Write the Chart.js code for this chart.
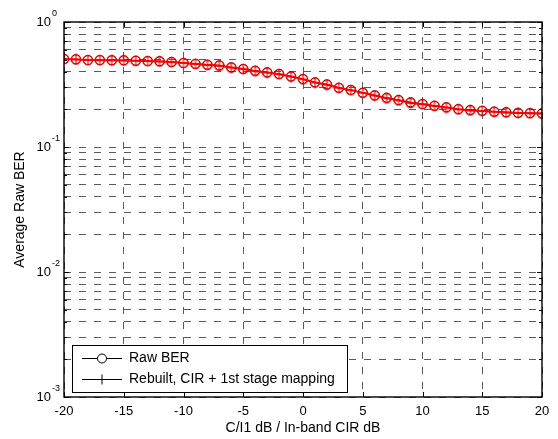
<!DOCTYPE html>
<html>
<head>
<meta charset="utf-8">
<script src="https://cdn.jsdelivr.net/npm/chart.js@4/dist/chart.umd.min.js"></script>
<style>
  html, body { margin: 0; padding: 0; background: #fff; }
  #wrap { width: 558px; height: 439px; }
</style>
</head>
<body>
<div id="wrap"><canvas id="ber-chart" width="558" height="439"></canvas></div>
<script>
// ─── Data ──────────────────────────────────────────────────────

const X_DB = [-20, -19, -18, -17, -16, -15, -14, -13, -12, -11, -10, -9, -8, -7, -6, -5, -4, -3, -2, -1,
  0, 1, 2, 3, 4, 5, 6, 7, 8, 9, 10, 11, 12, 13, 14, 15, 16, 17, 18, 19, 20];

const RAW_BER = [0.506, 0.503, 0.496, 0.496, 0.494, 0.494, 0.490, 0.487, 0.485, 0.479, 0.470, 0.463,
  0.456, 0.450, 0.434, 0.421, 0.408, 0.396, 0.384, 0.367, 0.350, 0.329, 0.317, 0.298, 0.286, 0.272,
  0.259, 0.248, 0.238, 0.228, 0.221, 0.214, 0.208, 0.201, 0.198, 0.195, 0.192, 0.190, 0.188, 0.187, 0.186];

const REBUILT_BER = [0.505, 0.502, 0.496, 0.495, 0.494, 0.493, 0.489, 0.487, 0.484, 0.478, 0.470, 0.461,
  0.452, 0.447, 0.432, 0.420, 0.404, 0.394, 0.382, 0.366, 0.348, 0.328, 0.315, 0.297, 0.285, 0.271,
  0.258, 0.245, 0.236, 0.225, 0.220, 0.213, 0.207, 0.200, 0.196, 0.194, 0.191, 0.189, 0.187, 0.186, 0.185];

const X_TICKS = [-20, -15, -10, -5, 0, 5, 10, 15, 20];
const Y_DECADES = [0.001, 0.01, 0.1, 1];
const Y_EXPONENTS = ['-3', '-2', '-1', '0'];
const Y_MINOR_STEPS = [2, 3, 4, 5, 6, 7, 8, 9];

const SERIES_LABELS = ['Raw BER', 'Rebuilt, CIR + 1st stage mapping'];
const X_TITLE = 'C/I1 dB / In-band CIR dB';
const Y_TITLE = 'Average Raw BER';

const FONT = '"Liberation Sans", Arial, Helvetica, sans-serif';
const GRID_COLOR = '#5a5a5a';

// ─── Helpers ───────────────────────────────────────────────────

// red circle with a plus through it, used as the marker of the rebuilt series
function circlePlusMarker(color) {
  const c = document.createElement('canvas');
  c.width = 12;
  c.height = 12;
  const g = c.getContext('2d');
  g.strokeStyle = color;
  g.lineWidth = 1.1;
  g.beginPath();
  g.arc(6, 6, 4.6, 0, Math.PI * 2);
  g.moveTo(6, 0.5); g.lineTo(6, 11.5);
  g.moveTo(0.5, 6); g.lineTo(11.5, 6);
  g.stroke();
  return c;
}

function allYTicks() {
  const ticks = [];
  Y_DECADES.forEach((d, i) => {
    ticks.push(d);
    if (i < Y_DECADES.length - 1) Y_MINOR_STEPS.forEach(m => ticks.push(d * m));
  });
  return ticks;
}

// ─── Frame plugin: box, inner ticks, labels, legend ───────────

const matlabFrame = {
  id: 'matlabFrame',
  afterDraw(chart) {
    const { ctx, chartArea: a, scales } = chart;
    const xs = scales.x, ys = scales.y;
    ctx.save();

    // box
    ctx.strokeStyle = '#000';
    ctx.lineWidth = 1.4;
    ctx.strokeRect(a.left, a.top, a.right - a.left, a.bottom - a.top);

    // inner ticks
    ctx.lineWidth = 1;
    ctx.beginPath();
    X_TICKS.forEach(v => {
      const px = Math.round(xs.getPixelForValue(v)) + 0.5;
      ctx.moveTo(px, a.bottom); ctx.lineTo(px, a.bottom - 5);
      ctx.moveTo(px, a.top); ctx.lineTo(px, a.top + 5);
    });
    allYTicks().forEach(v => {
      const py = Math.round(ys.getPixelForValue(v)) + 0.5;
      const len = Y_DECADES.includes(v) ? 5 : 3;
      ctx.moveTo(a.left, py); ctx.lineTo(a.left + len, py);
      ctx.moveTo(a.right, py); ctx.lineTo(a.right - len, py);
    });
    ctx.stroke();

    // y tick labels as 10 with a raised exponent
    ctx.fillStyle = '#000';
    Y_DECADES.forEach((v, i) => {
      const py = ys.getPixelForValue(v);
      ctx.font = `13px ${FONT}`;
      ctx.textAlign = 'right';
      ctx.textBaseline = 'middle';
      ctx.fillText('10', 51, py);
      ctx.font = `9px ${FONT}`;
      ctx.textAlign = 'left';
      ctx.fillText(Y_EXPONENTS[i], 52, py - 8);
    });

    // axis titles
    ctx.font = `14px ${FONT}`;
    ctx.textAlign = 'center';
    ctx.textBaseline = 'middle';
    ctx.fillText(X_TITLE, (a.left + a.right) / 2, 428);
    ctx.save();
    ctx.translate(20, (a.top + a.bottom) / 2);
    ctx.rotate(-Math.PI / 2);
    ctx.fillText(Y_TITLE, 0, 0);
    ctx.restore();

    // legend
    const lx = 72, ly = 345, lw = 275, lh = 47;
    ctx.fillStyle = '#fff';
    ctx.fillRect(lx, ly, lw, lh);
    ctx.strokeStyle = '#000';
    ctx.lineWidth = 1;
    ctx.strokeRect(lx + 0.5, ly + 0.5, lw, lh);

    const rows = [358.5, 379.5];
    ctx.beginPath();
    rows.forEach(ry => {
      ctx.moveTo(82, ry); ctx.lineTo(122, ry);
    });
    ctx.stroke();
    ctx.beginPath();
    ctx.arc(102, rows[0], 4.5, 0, Math.PI * 2);
    ctx.fillStyle = '#fff';
    ctx.fill();
    ctx.stroke();
    ctx.beginPath();
    ctx.moveTo(102, rows[1] - 5); ctx.lineTo(102, rows[1] + 5);
    ctx.stroke();

    ctx.fillStyle = '#000';
    ctx.font = `14px ${FONT}`;
    ctx.textAlign = 'left';
    ctx.textBaseline = 'middle';
    rows.forEach((ry, i) => ctx.fillText(SERIES_LABELS[i], 129, ry));

    ctx.restore();
  },
};

// ─── Chart ─────────────────────────────────────────────────────

function renderChart() {
  const canvas = document.getElementById('ber-chart');
  const toPoints = ys => X_DB.map((x, i) => ({ x, y: ys[i] }));

  new Chart(canvas, {
    type: 'line',
    data: {
      datasets: [
        {
          label: SERIES_LABELS[0],
          data: toPoints(RAW_BER),
          borderColor: '#000',
          borderWidth: 1,
          pointStyle: 'circle',
          pointRadius: 4.6,
          pointBorderColor: '#000',
          pointBackgroundColor: 'rgba(0,0,0,0)',
          pointBorderWidth: 1,
          order: 2,
        },
        {
          label: SERIES_LABELS[1],
          data: toPoints(REBUILT_BER),
          borderColor: '#ff0000',
          borderWidth: 2,
          pointStyle: circlePlusMarker('#ff0000'),
          pointRadius: 4.6,
          order: 1,
        },
      ],
    },
    options: {
      responsive: false,
      animation: false,
      events: [],
      layout: { padding: { top: 22, right: 16, left: 0, bottom: 0 } },
      plugins: {
        legend: { display: false },
        tooltip: { enabled: false },
      },
      scales: {
        x: {
          type: 'linear',
          min: -20,
          max: 20,
          afterBuildTicks: s => { s.ticks = X_TICKS.map(v => ({ value: v })); },
          afterFit: s => { s.height = 42; s.paddingLeft = 0; s.paddingRight = 0; },
          ticks: {
            color: '#000',
            font: { family: FONT, size: 13 },
            padding: 7,
            autoSkip: false,
            maxRotation: 0,
          },
          grid: { color: GRID_COLOR, lineWidth: 1, drawTicks: false },
          border: { display: false, dash: [7, 8] },
        },
        y: {
          type: 'logarithmic',
          min: 0.001,
          max: 1,
          afterBuildTicks: s => { s.ticks = allYTicks().map(v => ({ value: v })); },
          afterFit: s => { s.width = 64; },
          ticks: { display: false, autoSkip: false },
          grid: { color: GRID_COLOR, lineWidth: 1, drawTicks: false },
          border: { display: false, dash: [7, 8] },
        },
      },
    },
    plugins: [matlabFrame],
  });
}

document.addEventListener('DOMContentLoaded', renderChart);
</script>
</body>
</html>
